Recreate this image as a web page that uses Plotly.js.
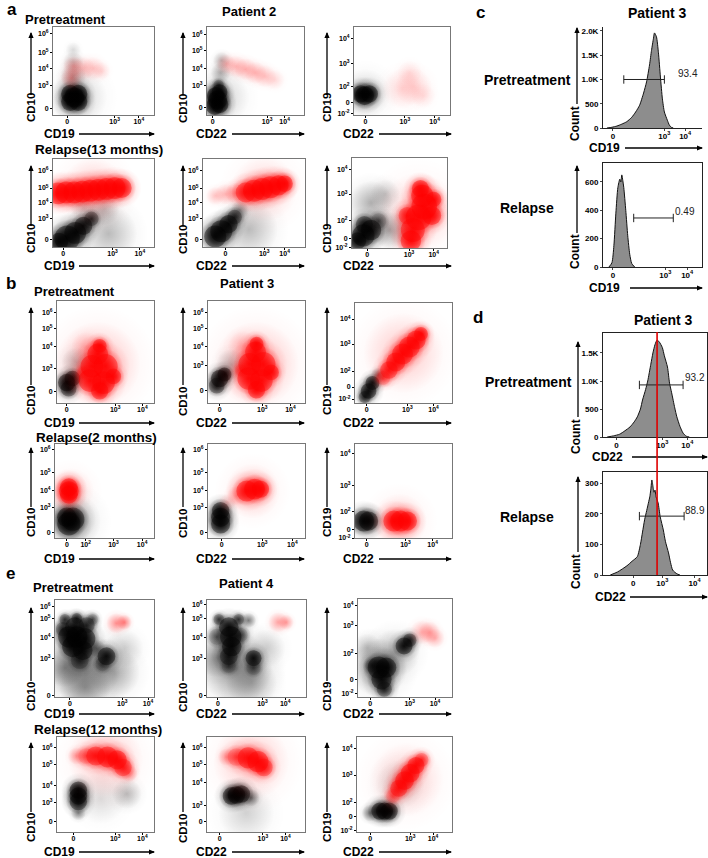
<!DOCTYPE html>
<html><head><meta charset="utf-8">
<script src="https://cdn.plot.ly/plotly-3.0.1.min.js"></script>
<style>html,body{margin:0;padding:0;background:#fff}</style>
</head><body>
<div id="chart" style="width:708px;height:858px"></div>
<script>
// ---------------- DATA ----------------
const LBL_X3 = ['0','10<sup>3</sup>','10<sup>4</sup>'];
const LBL_X4 = ['0','10<sup>2</sup>','10<sup>3</sup>','10<sup>4</sup>'];
const LBL_CD10 = ['0','10<sup>3</sup>','10<sup>4</sup>','10<sup>5</sup>','10<sup>6</sup>'];
const LBL_CD19 = ['10<sup>-2</sup>','0','10<sup>2</sup>','10<sup>3</sup>','10<sup>4</sup>'];
const LBL_HX = ['0','10<sup>3</sup>','10<sup>4</sup>'];

// Tick positions on the display scale (0..1 of each plot)
const a1XT=[0.14,0.61,0.85], a1YT=[0.07,0.33,0.53,0.71,0.93];
const a2XT=[0.06,0.62,0.80], a2YT=[0.08,0.34,0.53,0.73,0.91];
const a3XT=[0.12,0.53,0.84], a3YT=[0.02,0.14,0.32,0.59,0.87];
const a4XT=[0.10,0.59,0.86], a4YT=[0.09,0.32,0.51,0.67,0.87];
const a5XT=[0.22,0.60,0.80], a5YT=[0.09,0.32,0.51,0.67,0.87];
const a6XT=[0.16,0.60,0.86], a6YT=[0.01,0.11,0.31,0.60,0.87];
const b1XT=[0.10,0.60,0.88], b1YT=[0.11,0.34,0.55,0.73,0.89];
const b2XT=[0.12,0.56,0.85], b2YT=[0.12,0.37,0.55,0.73,0.89];
const b3XT=[0.12,0.54,0.81], b3YT=[0.04,0.16,0.32,0.59,0.84];
const b4XT=[0.12,0.31,0.59,0.88], b4YT=[0.06,0.32,0.51,0.70,0.94];
const b5XT=[0.14,0.56,0.87], b5YT=[0.06,0.32,0.51,0.70,0.94];
const b6XT=[0.12,0.52,0.80], b6YT=[0.00,0.09,0.28,0.56,0.90];
const e1XT=[0.15,0.68,0.94], e1YT=[0.02,0.40,0.61,0.81,0.93];
const e2XT=[0.11,0.56,0.79], e2YT=[0.02,0.40,0.61,0.81,0.95];
const e3XT=[0.13,0.55,0.82], e3YT=[0.04,0.18,0.44,0.73,0.93];
const e4XT=[0.17,0.60,0.88], e4YT=[0.11,0.31,0.49,0.71,0.89];
const e5XT=[0.13,0.57,0.80], e5YT=[0.11,0.28,0.52,0.71,0.89];
const e6XT=[0.14,0.56,0.80], e6YT=[0.02,0.16,0.31,0.60,0.88];

// Cell populations: [x, y, spread, density]
// K = ungated (black) events, R = gated (red) events
const a1K=[[0.17,0.15,0.1,1],[0.25,0.15,0.1,1],[0.17,0.24,0.1,1],[0.25,0.24,0.1,1],[0.21,0.2,0.11,1],[0.2,0.44,0.1,0.35],[0.2,0.6,0.08,0.25],[0.2,0.74,0.06,0.15],[0.25,0.2,0.22,0.2]];
const a1R=[[0.18,0.42,0.08,0.35],[0.2,0.55,0.08,0.3],[0.3,0.53,0.09,0.25],[0.4,0.53,0.09,0.22],[0.48,0.5,0.07,0.15]];
const a2K=[[0.08,0.1,0.1,1],[0.13,0.12,0.1,1],[0.09,0.22,0.1,1],[0.13,0.26,0.09,1],[0.11,0.17,0.11,1],[0.12,0.34,0.06,0.75],[0.14,0.48,0.08,0.35],[0.15,0.62,0.07,0.3],[0.15,0.2,0.22,0.2]];
const a2R=[[0.2,0.58,0.08,0.28],[0.3,0.55,0.09,0.28],[0.4,0.52,0.09,0.3],[0.5,0.48,0.09,0.3],[0.6,0.44,0.09,0.25],[0.7,0.4,0.08,0.15]];
const a3K=[[0.07,0.24,0.1,1],[0.16,0.24,0.1,1],[0.11,0.22,0.11,1],[0.12,0.24,0.2,0.2]];
const a3R=[[0.5,0.3,0.16,0.15],[0.62,0.32,0.15,0.18],[0.58,0.48,0.1,0.12],[0.72,0.22,0.1,0.12]];
const a4K=[[0.14,0.1,0.14,1],[0.22,0.16,0.12,1],[0.3,0.24,0.1,1],[0.38,0.32,0.08,0.85],[0.06,0.06,0.1,1],[0.55,0.15,0.22,0.3],[0.5,0.42,0.12,0.25],[0.3,0.45,0.1,0.2]];
const a4R=[[0.05,0.61,0.12,1],[0.13,0.62,0.12,1],[0.21,0.62,0.12,1],[0.29,0.63,0.12,1],[0.37,0.64,0.12,1],[0.45,0.65,0.12,1],[0.53,0.66,0.12,1],[0.61,0.67,0.12,1],[0.68,0.67,0.11,1],[0.4,0.64,0.25,0.25]];
const a5K=[[0.12,0.12,0.12,1],[0.18,0.18,0.12,1],[0.25,0.26,0.1,1],[0.31,0.34,0.08,0.85],[0.36,0.42,0.07,0.45],[0.45,0.2,0.22,0.3]];
const a5R=[[0.12,0.58,0.07,0.25],[0.22,0.6,0.08,0.3],[0.32,0.61,0.08,0.45],[0.42,0.62,0.11,0.95],[0.5,0.64,0.12,1],[0.58,0.66,0.12,1],[0.66,0.68,0.12,1],[0.74,0.7,0.11,1],[0.8,0.72,0.09,1],[0.6,0.66,0.25,0.2]];
const a6K=[[0.12,0.14,0.13,1],[0.2,0.2,0.12,1],[0.13,0.26,0.1,0.9],[0.28,0.3,0.09,0.7],[0.06,0.08,0.1,1],[0.2,0.5,0.18,0.35],[0.4,0.2,0.15,0.4],[0.35,0.6,0.12,0.2]];
const a6R=[[0.62,0.08,0.12,1],[0.64,0.2,0.14,1],[0.7,0.34,0.15,1],[0.76,0.46,0.15,1],[0.74,0.58,0.13,1],[0.72,0.66,0.1,1],[0.84,0.36,0.11,1],[0.58,0.36,0.1,0.9],[0.86,0.54,0.09,1],[0.7,0.4,0.32,0.2]];
const b1K=[[0.1,0.2,0.1,1],[0.16,0.24,0.09,1],[0.12,0.14,0.09,0.9],[0.2,0.4,0.12,0.3]];
const b1R=[[0.34,0.22,0.13,1],[0.48,0.2,0.13,1],[0.36,0.36,0.13,1],[0.5,0.36,0.14,1],[0.42,0.48,0.12,1],[0.44,0.56,0.08,1],[0.44,0.12,0.1,1],[0.58,0.26,0.09,1],[0.27,0.3,0.07,0.7],[0.42,0.38,0.34,0.3],[0.3,0.55,0.12,0.25]];
const b2K=[[0.12,0.24,0.1,1],[0.17,0.28,0.08,1],[0.09,0.17,0.09,0.9],[0.24,0.38,0.12,0.3]];
const b2R=[[0.42,0.24,0.13,1],[0.55,0.22,0.13,1],[0.43,0.38,0.13,1],[0.57,0.38,0.14,1],[0.49,0.5,0.12,1],[0.5,0.58,0.08,1],[0.5,0.13,0.1,1],[0.65,0.3,0.09,1],[0.34,0.32,0.07,0.7],[0.5,0.38,0.34,0.3],[0.36,0.56,0.12,0.25]];
const b3K=[[0.14,0.12,0.09,1],[0.18,0.2,0.08,1],[0.1,0.06,0.07,0.85],[0.24,0.28,0.06,0.6]];
const b3R=[[0.29,0.25,0.08,0.75],[0.35,0.33,0.1,0.95],[0.42,0.41,0.11,1],[0.49,0.49,0.12,1],[0.56,0.56,0.12,1],[0.63,0.63,0.11,1],[0.68,0.69,0.08,1],[0.5,0.5,0.32,0.25]];
const b4K=[[0.14,0.15,0.13,1],[0.18,0.2,0.13,1],[0.12,0.22,0.11,1],[0.18,0.18,0.22,0.3]];
const b4R=[[0.14,0.46,0.1,1],[0.14,0.54,0.1,1],[0.14,0.5,0.11,1],[0.16,0.5,0.18,0.2]];
const b5K=[[0.13,0.15,0.11,1],[0.13,0.22,0.11,1],[0.13,0.29,0.1,1]];
const b5R=[[0.4,0.5,0.12,1],[0.48,0.52,0.12,1],[0.54,0.52,0.1,1],[0.3,0.45,0.08,0.35],[0.2,0.38,0.07,0.2],[0.46,0.5,0.22,0.25]];
const b6K=[[0.09,0.18,0.12,1],[0.14,0.18,0.11,1]];
const b6R=[[0.4,0.18,0.12,1],[0.47,0.18,0.12,1],[0.54,0.18,0.11,1],[0.46,0.18,0.22,0.25]];
const e1K=[[0.14,0.62,0.12,1],[0.22,0.62,0.12,1],[0.3,0.6,0.12,1],[0.18,0.52,0.12,1],[0.28,0.48,0.11,1],[0.2,0.72,0.11,0.95],[0.32,0.74,0.09,0.85],[0.08,0.7,0.08,0.8],[0.1,0.8,0.06,0.8],[0.22,0.81,0.06,0.85],[0.38,0.8,0.06,0.7],[0.25,0.38,0.1,0.8],[0.52,0.42,0.1,1],[0.48,0.34,0.08,0.7],[0.42,0.5,0.07,0.6],[0.3,0.3,0.28,0.5],[0.6,0.25,0.2,0.35],[0.1,0.3,0.15,0.45],[0.3,0.1,0.2,0.35],[0.7,0.5,0.15,0.2]];
const e1R=[[0.62,0.76,0.08,0.5],[0.7,0.77,0.06,0.55]];
const e2K=[[0.22,0.72,0.11,1],[0.24,0.62,0.12,1],[0.25,0.52,0.11,1],[0.22,0.42,0.1,0.9],[0.22,0.32,0.08,0.7],[0.12,0.8,0.06,0.8],[0.32,0.8,0.06,0.8],[0.42,0.79,0.06,0.6],[0.1,0.62,0.09,0.7],[0.34,0.64,0.08,0.7],[0.47,0.4,0.09,1],[0.47,0.3,0.08,0.7],[0.3,0.3,0.28,0.5],[0.1,0.4,0.15,0.4],[0.45,0.15,0.2,0.3],[0.6,0.5,0.15,0.2]];
const e2R=[[0.72,0.77,0.08,0.4],[0.8,0.77,0.06,0.4]];
const e3K=[[0.22,0.3,0.13,1],[0.3,0.3,0.12,1],[0.25,0.18,0.12,1],[0.28,0.08,0.09,0.85],[0.15,0.32,0.08,0.7],[0.49,0.52,0.1,1],[0.55,0.58,0.08,0.9],[0.22,0.3,0.24,0.4],[0.4,0.45,0.2,0.3],[0.1,0.5,0.12,0.25]];
const e3R=[[0.68,0.66,0.1,0.3],[0.76,0.66,0.09,0.35],[0.82,0.6,0.08,0.3]];
const e4K=[[0.22,0.44,0.1,1],[0.22,0.32,0.1,0.95],[0.22,0.38,0.1,1],[0.22,0.2,0.06,0.5],[0.72,0.4,0.12,0.3],[0.45,0.35,0.2,0.15]];
const e4R=[[0.3,0.8,0.09,0.7],[0.4,0.8,0.11,0.95],[0.52,0.79,0.12,1],[0.62,0.76,0.11,1],[0.68,0.68,0.1,0.9],[0.2,0.8,0.07,0.4],[0.74,0.62,0.07,0.5],[0.5,0.76,0.3,0.25]];
const e5K=[[0.25,0.38,0.1,1],[0.35,0.4,0.1,1],[0.3,0.39,0.1,1],[0.45,0.36,0.07,0.6],[0.4,0.2,0.22,0.2]];
const e5R=[[0.3,0.79,0.1,0.75],[0.42,0.78,0.12,1],[0.52,0.74,0.12,1],[0.58,0.68,0.1,0.9],[0.2,0.79,0.07,0.4],[0.45,0.74,0.3,0.25]];
const e6K=[[0.24,0.22,0.1,1],[0.34,0.22,0.1,1],[0.29,0.22,0.1,1],[0.14,0.2,0.07,0.6],[0.45,0.5,0.2,0.2]];
const e6R=[[0.38,0.38,0.08,0.7],[0.44,0.46,0.1,0.95],[0.5,0.54,0.11,1],[0.56,0.62,0.11,1],[0.62,0.7,0.1,1],[0.68,0.76,0.08,0.8],[0.52,0.55,0.3,0.22]];

// Histograms (display position of bin, event count)
const c1X=[0.04,0.09,0.14,0.19,0.24,0.29,0.33,0.37,0.41,0.44,0.47,0.49,0.51,0.52,0.54,0.56,0.58,0.60,0.62,0.65,0.67,0.69,0.71];
const c1Y=[0,15,40,80,130,220,330,470,720,950,1300,1600,1850,1960,1880,1550,1050,600,330,160,60,15,0];
const c2X=[0.06,0.09,0.11,0.13,0.15,0.17,0.18,0.19,0.20,0.21,0.23,0.25,0.27,0.29,0.32];
const c2Y=[0,30,150,380,560,620,600,650,610,560,400,220,90,25,0];
const d1X=[0.04,0.10,0.16,0.21,0.26,0.30,0.33,0.36,0.38,0.41,0.43,0.46,0.48,0.50,0.52,0.54,0.57,0.59,0.62,0.64,0.66,0.69,0.71,0.74,0.77,0.80,0.83];
const d1Y=[0,20,50,110,180,270,360,500,660,850,1000,1300,1500,1650,1730,1700,1600,1450,1250,960,790,520,360,190,70,15,0];
const d2X=[0.07,0.14,0.23,0.28,0.33,0.36,0.38,0.40,0.42,0.44,0.45,0.46,0.47,0.48,0.49,0.50,0.51,0.53,0.55,0.58,0.60,0.63,0.65,0.67,0.71,0.74];
const d2Y=[0,10,30,45,60,100,140,180,210,240,255,280,310,290,270,277,255,235,190,147,110,72,40,16,4,0];
const c1YT=[0,500,1000,1500,2000], c1YL=['0','500','1.0K','1.5K','2.0K'];
const c2YT=[0,200,400,600], c2YL=['0','200','400','600'];
const d1YT=[0,500,1000,1500], d1YL=['0','500','1.0K','1.5K'];
const d2YT=[0,100,200,300], d2YL=['0','100','200','300'];
const c1XT=[0.10,0.62,0.83], c2XT=[0.10,0.63,0.85], d1XT=[0.13,0.57,0.81], d2XT=[0.29,0.57,0.88];
const c1Gate=[0.21,0.62,1000], c2Gate=[0.31,0.71,346], d1Gate=[0.35,0.77,930], d2Gate=[0.35,0.78,192];
const gateLabels=['93.4','0.49','93.2','88.9'];
const gateLabelPos=[[0.86,1130],[0.83,395],[0.88,1054],[0.88,212]];
const d1MedianLine=0.52;

// ---------------- LAYOUT ----------------
const W=708,H=858,FONT='Liberation Sans, Arial, sans-serif';
const PX=v=>v/W, PY=v=>1-v/H;
const panels=[
 {f:[53,154,27,115],xt:a1XT,xl:LBL_X3,yt:a1YT,yl:LBL_CD10,K:a1K,R:a1R},
 {f:[207,304,27,115],xt:a2XT,xl:LBL_X3,yt:a2YT,yl:LBL_CD10,K:a2K,R:a2R},
 {f:[354,450,27,115],xt:a3XT,xl:LBL_X3,yt:a3YT,yl:LBL_CD19,K:a3K,R:a3R},
 {f:[53,154,159,247],xt:a4XT,xl:LBL_X3,yt:a4YT,yl:LBL_CD10,K:a4K,R:a4R},
 {f:[203,305,159,247],xt:a5XT,xl:LBL_X3,yt:a5YT,yl:LBL_CD10,K:a5K,R:a5R},
 {f:[352,447,158,248],xt:a6XT,xl:LBL_X3,yt:a6YT,yl:LBL_CD19,K:a6K,R:a6R},
 {f:[57,154,301,403],xt:b1XT,xl:LBL_X3,yt:b1YT,yl:LBL_CD10,K:b1K,R:b1R},
 {f:[208,305,301,403],xt:b2XT,xl:LBL_X3,yt:b2YT,yl:LBL_CD10,K:b2K,R:b2R},
 {f:[355,452,303,403],xt:b3XT,xl:LBL_X3,yt:b3YT,yl:LBL_CD19,K:b3K,R:b3R},
 {f:[55,154,444,538],xt:b4XT,xl:LBL_X4,yt:b4YT,yl:LBL_CD10,K:b4K,R:b4R},
 {f:[208,305,444,538],xt:b5XT,xl:LBL_X3,yt:b5YT,yl:LBL_CD10,K:b5K,R:b5R},
 {f:[355,452,444,538],xt:b6XT,xl:LBL_X3,yt:b6YT,yl:LBL_CD19,K:b6K,R:b6R},
 {f:[55,154,600,697],xt:e1XT,xl:LBL_X3,yt:e1YT,yl:LBL_CD10,K:e1K,R:e1R},
 {f:[207,306,600,697],xt:e2XT,xl:LBL_X3,yt:e2YT,yl:LBL_CD10,K:e2K,R:e2R},
 {f:[358,452,599,697],xt:e3XT,xl:LBL_X3,yt:e3YT,yl:LBL_CD19,K:e3K,R:e3R},
 {f:[57,154,737,832],xt:e4XT,xl:LBL_X3,yt:e4YT,yl:LBL_CD10,K:e4K,R:e4R},
 {f:[207,305,737,832],xt:e5XT,xl:LBL_X3,yt:e5YT,yl:LBL_CD10,K:e5K,R:e5R},
 {f:[357,452,737,832],xt:e6XT,xl:LBL_X3,yt:e6YT,yl:LBL_CD19,K:e6K,R:e6R}
];
const colGeo=[{yx:31,xl:42,ar:[79,154],xn:'CD19',yn:'CD10'},{yx:183,xl:194,ar:[232,304],xn:'CD22',yn:'CD10'},{yx:327,xl:341,ar:[379,451],xn:'CD22',yn:'CD19'}];
const rowGeo=[{xly:134,yc:108,ya:[95,33]},{xly:266,yc:239,ya:[226,166]},{xly:423,yc:401,ya:[385,308]},{xly:559,yc:523,ya:[507,448]},{xly:714,yc:697,ya:[681,608]},{xly:852,yc:828,ya:[812,743]}];

const traces=[], layout={width:W,height:H,margin:{l:0,r:0,t:0,b:0},showlegend:false,paper_bgcolor:'#fff',plot_bgcolor:'#fff',annotations:[],shapes:[],font:{family:FONT,color:'#000'}};
const tickFont={family:FONT,size:7,color:'#000',weight:'bold'};

function blobTraces(blobs,rgb,ax,ay,wpx){
  const xs=blobs.map(b=>b[0]), ys=blobs.map(b=>b[1]);
  const rgba=a=>'rgba('+rgb+','+Math.max(0,Math.min(1,a)).toFixed(3)+')';
  [[3.6,0.35],[2.6,1.0]].forEach(([k,a])=>{
    traces.push({type:'scatter',mode:'markers',xaxis:ax,yaxis:ay,hoverinfo:'skip',x:xs,y:ys,
      marker:{size:blobs.map(b=>k*b[2]*wpx),color:blobs.map(()=>rgba(0)),
        gradient:{type:'radial',color:blobs.map(b=>rgba(a*b[3]))},line:{width:0}}});
  });
  traces.push({type:'scatter',mode:'markers',xaxis:ax,yaxis:ay,hoverinfo:'skip',x:xs,y:ys,
    marker:{size:blobs.map(b=>1.8*b[2]*wpx),color:blobs.map(b=>rgba((b[3]-0.6)*2.5*0.55)),
      gradient:{type:'radial',color:blobs.map(b=>rgba((b[3]-0.6)*2.5))},line:{width:0}}});
}
function addText(t,x,y,size,opts){
  layout.annotations.push(Object.assign({text:t,x:PX(x),y:PY(y),xref:'paper',yref:'paper',showarrow:false,
    xanchor:'left',yanchor:'middle',font:{family:FONT,size:size,color:'#000',weight:'bold'}},opts||{}));
}
function addArrow(x0,y0,x1,y1){
  layout.shapes.push({type:'line',xref:'paper',yref:'paper',x0:PX(x0),y0:PY(y0),x1:PX(x1),y1:PY(y1),line:{color:'#000',width:1.3}});
  let p;
  if(y0===y1){ p=[[x1+1,y1],[x1-5,y1-2.6],[x1-5,y1+2.6]]; }
  else { p=[[x1,y1-1],[x1-2.6,y1+5],[x1+2.6,y1+5]]; }
  layout.shapes.push({type:'path',xref:'paper',yref:'paper',path:'M'+p.map(q=>PX(q[0])+','+PY(q[1])).join('L')+'Z',
    fillcolor:'#000',line:{width:0}});
}

panels.forEach((p,i)=>{
  const n=i+1, ax='x'+(n===1?'':n), ay='y'+(n===1?'':n);
  const [l,r,t,b]=p.f;
  const common={range:[0,1],ticks:'outside',ticklen:2,tickcolor:'#000',showline:true,mirror:true,linecolor:'#777',linewidth:1,
    showgrid:false,zeroline:false,tickfont:tickFont,fixedrange:true};
  layout['xaxis'+(n===1?'':n)]=Object.assign({domain:[PX(l),PX(r)],anchor:ay,tickvals:p.xt,ticktext:p.xl,ticklabelstandoff:-2},common);
  layout['yaxis'+(n===1?'':n)]=Object.assign({domain:[PY(b),PY(t)],anchor:ax,tickvals:p.yt,ticktext:p.yl},common);
  blobTraces(p.K,'0,0,0',ax,ay,r-l);
  blobTraces(p.R,'255,0,0',ax,ay,r-l);
  const cg=colGeo[i%3], rg=rowGeo[Math.floor(i/3)];
  addText(cg.xn,cg.xl,rg.xly,12);
  addArrow(cg.ar[0],rg.xly,cg.ar[1],rg.xly);
  addText(cg.yn,cg.yx,rg.yc,11.5,{textangle:-90,xanchor:'center',yanchor:'middle'});
  addArrow(cg.yx,rg.ya[0],cg.yx,rg.ya[1]);
});

// Histograms
const hists=[
 {f:[603,702,27,128],X:c1X,Y:c1Y,xt:c1XT,yt:c1YT,yl:c1YL,top:2082,gate:c1Gate,box:false,xn:'CD19',xly:148,xlx:587,ar:[625,702],cx:575,cy:124,ca:[104,28]},
 {f:[603,702,163,267],X:c2X,Y:c2Y,xt:c2XT,yt:c2YT,yl:c2YL,top:734,gate:c2Gate,box:true,xn:'CD19',xly:288,xlx:587,ar:[630,702],cx:575,cy:252,ca:[233,166]},
 {f:[603,707,333,437],X:d1X,Y:d1Y,xt:d1XT,yt:d1YT,yl:d1YL,top:1857,gate:d1Gate,box:true,xn:'CD22',xly:457,xlx:590,ar:[632,707],cx:576,cy:437,ca:[417,342]},
 {f:[603,707,472,575],X:d2X,Y:d2Y,xt:d2XT,yt:d2YT,yl:d2YL,top:336,gate:d2Gate,box:true,xn:'CD22',xly:597,xlx:593,ar:[630,707],cx:576,cy:572,ca:[552,477]}
];
hists.forEach((h,j)=>{
  const n=panels.length+j+1, ax='x'+n, ay='y'+n;
  const [l,r,t,b]=h.f;
  const hf={family:FONT,size:8,color:'#000',weight:'bold'};
  layout['xaxis'+n]={domain:[PX(l),PX(r)],range:[0,1],anchor:ay,tickvals:h.xt,ticktext:LBL_HX,ticks:'outside',ticklen:2,ticklabelstandoff:-2,
    showline:true,mirror:h.box,linecolor:'#222',linewidth:1,showgrid:false,zeroline:false,tickfont:hf,fixedrange:true};
  layout['yaxis'+n]={domain:[PY(b),PY(t)],range:[0,h.top],anchor:ax,tickvals:h.yt,ticktext:h.yl,ticks:'outside',ticklen:2,
    showline:true,mirror:h.box,linecolor:'#222',linewidth:1,showgrid:false,zeroline:false,tickfont:hf,fixedrange:true};
  traces.push({type:'scatter',mode:'lines',x:h.X,y:h.Y,xaxis:ax,yaxis:ay,fill:'tozeroy',fillcolor:'#8d8d8d',
    line:{color:'#111',width:1,shape:'spline',smoothing:0.6},hoverinfo:'skip'});
  traces.push({type:'scatter',mode:'lines+markers',x:[h.gate[0],h.gate[1]],y:[h.gate[2],h.gate[2]],xaxis:ax,yaxis:ay,
    line:{color:'#222',width:1},marker:{symbol:'line-ns-open',size:6,line:{color:'#222',width:1}},hoverinfo:'skip'});
  layout.annotations.push({text:gateLabels[j],x:gateLabelPos[j][0],y:gateLabelPos[j][1],xref:ax,yref:ay,showarrow:false,
    xanchor:'center',yanchor:'middle',font:{family:FONT,size:10,color:'#222'}});
  addText(h.xn,h.xlx,h.xly,12);
  addArrow(h.ar[0],h.xly,h.ar[1],h.xly);
  addText('Count',h.cx,h.cy,12,{textangle:-90,xanchor:'center'});
  addArrow(h.cx+2,h.ca[0],h.cx+2,h.ca[1]);
});
layout.shapes.push({type:'line',xref:'x'+(panels.length+3),yref:'paper',x0:d1MedianLine,x1:d1MedianLine,
  y0:PY(575),y1:PY(332),line:{color:'#e00000',width:1.6}});

// Titles
addText('a',5,9,17);
addText('Pretreatment',23,20,13);
addText('Patient 2',249,12,13,{xanchor:'center'});
addText('Relapse(13 months)',33,150,13.5);
addText('b',4,283,17);
addText('Pretreatment',32,291,13);
addText('Patient 3',247,283,13,{xanchor:'center'});
addText('Relapse(2 months)',34,437,13.5);
addText('e',4,573,17);
addText('Pretreatment',31,587,13);
addText('Patient 4',247,583,13,{xanchor:'center'});
addText('Relapse(12 months)',32,729.5,13.5);
addText('c',474,13,17);
addText('Patient 3',657,13,14,{xanchor:'center'});
addText('Pretreatment',527,80,14,{xanchor:'center'});
addText('Relapse',527,208,14,{xanchor:'center'});
addText('d',471,317,17);
addText('Patient 3',663,320,14,{xanchor:'center'});
addText('Pretreatment',528,382,14,{xanchor:'center'});
addText('Relapse',527,517,14,{xanchor:'center'});

Plotly.newPlot('chart',traces,layout,{staticPlot:true});
</script>
</body></html>
